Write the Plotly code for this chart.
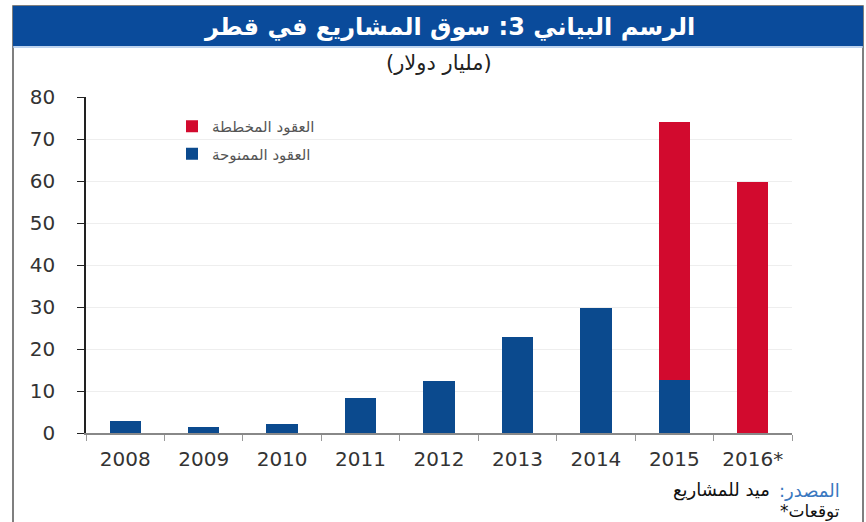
import plotly.graph_objects as go

years = ["2008", "2009", "2010", "2011", "2012", "2013", "2014", "2015", "2016*"]
awarded = [2.8, 1.4, 2.2, 8.3, 12.5, 22.8, 29.8, 12.6, 0]
planned = [0, 0, 0, 0, 0, 0, 0, 61.4, 59.8]
y_ticks = [0, 10, 20, 30, 40, 50, 60, 70, 80]

RLM = "\u200f"
title_text = "الرسم البياني 3: سوق المشاريع في قطر"
subtitle_text = "(مليار دولار)"
name_awarded = "العقود الممنوحة"
name_planned = "العقود المخططة"
source_label = "المصدر:" + RLM
source_text = "ميد للمشاريع"
note_text = "توقعات*" + RLM

BLUE = "#0b4a8e"
RED = "#d20a2e"
FONT = "DejaVu Sans"

W, H = 866, 522
L, R, T, B = 86, 74, 97, 89
pw, ph = W - L - R, H - T - B


def px(x):
    return (x - L) / pw


def py(y):
    return (H - B - y) / ph


fig = go.Figure()
fig.add_trace(go.Bar(x=years, y=awarded, name=name_awarded, marker_color=BLUE,
                     marker_line_width=0, legendgroup="a", legendrank=2))
fig.add_trace(go.Bar(x=years, y=planned, name=name_planned, marker_color=RED,
                     marker_line_width=0, legendgroup="b", legendrank=1))

tickfont = dict(family=FONT, size=20, color="#333333")

fig.update_layout(
    width=W, height=H,
    margin=dict(l=L, r=R, t=T, b=B),
    paper_bgcolor="white", plot_bgcolor="white",
    barmode="stack", bargap=0.6,
    font=dict(family=FONT),
    xaxis=dict(type="category", showline=True, linecolor="#888888", linewidth=1.5,
               ticks="outside", tickson="boundaries", ticklen=6, tickcolor="#999999",
               tickfont=tickfont, showgrid=False, ticklabelstandoff=7),
    yaxis=dict(range=[0, 80], tickvals=y_ticks, showline=True, linecolor="#222222",
               linewidth=1.5, ticks="outside", ticklen=7, tickcolor="#222222",
               tickfont=tickfont, showgrid=True, gridcolor="#eeeeee", zeroline=False,
               ticklabelstandoff=18),
    yaxis2=dict(range=[0, 80], tickvals=y_ticks, overlaying="y", side="right",
                anchor="x", showline=True, linecolor="#222222", linewidth=1.5,
                ticks="outside", ticklen=7, tickcolor="#222222", tickfont=tickfont,
                showgrid=False, zeroline=False, ticklabelstandoff=15),
    showlegend=True,
    legend=dict(x=px(172), y=py(110), xanchor="left", yanchor="top",
                traceorder="grouped", tracegroupgap=5,
                font=dict(family=FONT, size=15, color="#555555"),
                bgcolor="rgba(0,0,0,0)"),
)

shapes = [
    # outer frame
    dict(type="rect", xref="paper", yref="paper", x0=px(13), x1=px(863), y0=py(540), y1=py(6),
         line=dict(color="#555555", width=1.5), fillcolor="rgba(0,0,0,0)", layer="below"),
    # title bar
    dict(type="rect", xref="paper", yref="paper", x0=px(13), x1=px(863), y0=py(46), y1=py(6),
         line=dict(width=0), fillcolor="#0a4b9b", layer="below"),
    dict(type="line", xref="paper", yref="paper", x0=px(13), x1=px(863), y0=py(47), y1=py(47),
         line=dict(color="#a9c6ea", width=1.5), layer="below"),
]
fig.update_layout(shapes=shapes)

annotations = [
    dict(text="<b>" + title_text + "</b>", x=px(449), y=py(27), xref="paper", yref="paper",
         showarrow=False, xanchor="center", yanchor="middle",
         font=dict(family=FONT, size=24, color="white")),
    dict(text=subtitle_text, x=px(439), y=py(63), xref="paper", yref="paper",
         showarrow=False, xanchor="center", yanchor="middle",
         font=dict(family=FONT, size=21, color="#222222")),
    dict(text=source_label, x=px(842), y=py(490), xref="paper", yref="paper",
         showarrow=False, xanchor="right", yanchor="middle",
         font=dict(family=FONT, size=18, color="#3a78c0")),
    dict(text=source_text, x=px(772), y=py(490), xref="paper", yref="paper",
         showarrow=False, xanchor="right", yanchor="middle",
         font=dict(family=FONT, size=18, color="#111111")),
    dict(text=note_text, x=px(842), y=py(511), xref="paper", yref="paper",
         showarrow=False, xanchor="right", yanchor="middle",
         font=dict(family=FONT, size=17, color="#111111")),
]
fig.update_layout(annotations=annotations)

fig.write_html("out.html")
